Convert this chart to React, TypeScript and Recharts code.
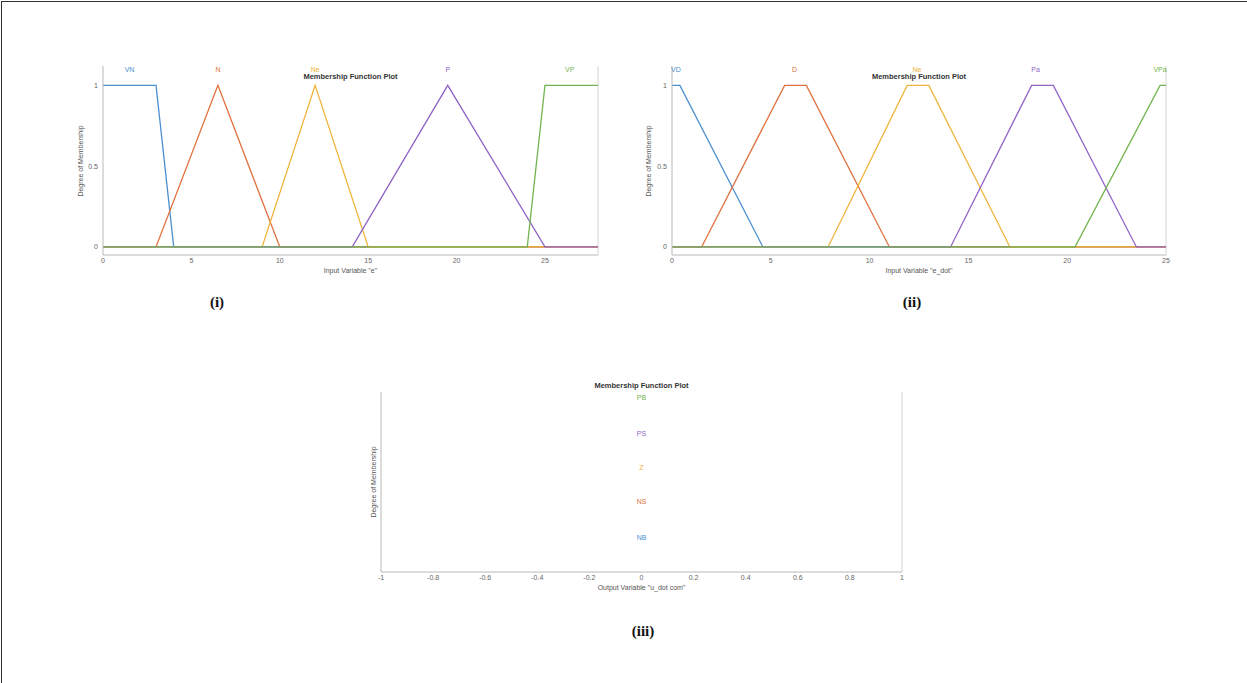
import { Line, LineChart, ReferenceDot, ReferenceLine, XAxis, YAxis } from 'recharts';

// input "e" membership functions, [x, degree] corner points
const eTicks = [0, 5, 10, 15, 20, 25];
const eVN = [[0, 1], [3, 1], [4, 0], [28, 0]];
const eN = [[0, 0], [3, 0], [6.5, 1], [10, 0], [28, 0]];
const eNe = [[0, 0], [9, 0], [12, 1], [15, 0], [28, 0]];
const eP = [[0, 0], [14.1, 0], [19.5, 1], [25, 0], [28, 0]];
const eVP = [[0, 0], [24, 0], [25, 1], [28, 1]];
const eNames = ['VN', 'N', 'Ne', 'P', 'VP'];
const eLabelX = [1.5, 6.5, 12, 19.5, 26.4];

// input "e_dot"
const edTicks = [0, 5, 10, 15, 20, 25];
const edVD = [[0, 1], [0.4, 1], [4.6, 0], [25, 0]];
const edD = [[0, 0], [1.5, 0], [5.7, 1], [6.8, 1], [11, 0], [25, 0]];
const edNe = [[0, 0], [7.9, 0], [11.9, 1], [13, 1], [17.1, 0], [25, 0]];
const edPa = [[0, 0], [14.1, 0], [18.2, 1], [19.3, 1], [23.5, 0], [25, 0]];
const edVPa = [[0, 0], [20.4, 0], [24.7, 1], [25, 1]];
const edNames = ['VD', 'D', 'Ne', 'Pa', 'VPa'];
const edLabelX = [0.2, 6.2, 12.4, 18.4, 24.7];

// output "u_dot com" (constant outputs, labels only)
const uTicks = [-1, -0.8, -0.6, -0.4, -0.2, 0, 0.2, 0.4, 0.6, 0.8, 1];
const uNames = ['NB', 'NS', 'Z', 'PS', 'PB'];
const uLabelX = [0, 0, 0, 0, 0];
const uLabelY = [0.19, 0.39, 0.58, 0.77, 0.97];

const mfColors = ['#4a8fd0', '#e0703c', '#efb43c', '#9063c6', '#72b44e'];

const FONT = '"Liberation Sans", Arial, sans-serif';

type Pt = number[];

interface PanelProps {
  left: number;
  top: number;
  width: number;
  height: number;
  margin: { top: number; right: number; bottom: number; left: number };
  yAxisWidth: number;
  xDomain: [number, number];
  yDomain: [number, number];
  xTicks: number[];
  yTicks: number[];
  series: Pt[][];
  names: string[];
  labelX: number[];
  labelY: number[];
  xLabel: string;
  title: string;
  titleTop: number;
  yLabelLeft: number;
}

function MfPanel(p: PanelProps) {
  const plotLeft = p.margin.left + p.yAxisWidth;
  const plotRight = p.width - p.margin.right;
  const plotTop = p.margin.top;
  const plotBottom = p.height - p.margin.bottom - 22;
  return (
    <div style={{ position: 'absolute', left: p.left, top: p.top, width: p.width, height: p.height }}>
      <LineChart width={p.width} height={p.height} margin={p.margin}>
        <XAxis
          allowDataOverflow
          axisLine={{ stroke: '#b8b8b8' }}
          dataKey='x'
          domain={p.xDomain}
          height={22}
          interval={0}
          label={{ value: p.xLabel, position: 'insideBottom', offset: 4, fontSize: 7, fill: '#555', fontFamily: FONT }}
          tick={{ fontSize: 7, fill: '#666', fontFamily: FONT }}
          tickLine={false}
          tickMargin={1}
          tickSize={2}
          ticks={p.xTicks}
          type='number'
        />
        <YAxis
          allowDataOverflow
          axisLine={{ stroke: '#b8b8b8' }}
          domain={p.yDomain}
          interval={0}
          tick={p.yTicks.length ? { fontSize: 7, fill: '#666', fontFamily: FONT } : false}
          tickLine={false}
          tickMargin={3}
          tickSize={2}
          ticks={p.yTicks}
          type='number'
          width={p.yAxisWidth}
        />
        <ReferenceLine
          stroke='#d4d4d4'
          x={p.xDomain[1]}
        />
        {p.series.map((pts, i) => (
          <Line
            data={pts.map(([x, y]) => ({ x, y }))}
            dataKey='y'
            dot={false}
            isAnimationActive={false}
            key={p.names[i]}
            stroke={mfColors[i]}
            strokeWidth={1.3}
            type='linear'
          />
        ))}
        {p.names.map((name, i) => (
          <ReferenceDot
            fill='none'
            ifOverflow='visible'
            key={`lbl-${name}`}
            label={{ value: name, position: 'center', fontSize: 7, fill: mfColors[i], fontFamily: FONT }}
            r={1}
            stroke='none'
            x={p.labelX[i]}
            y={p.labelY[i]}
          />
        ))}
      </LineChart>
      <div
        style={{
          position: 'absolute',
          left: (plotLeft + plotRight) / 2,
          top: p.titleTop,
          transform: 'translate(-50%, -50%)',
          fontFamily: FONT,
          fontSize: 7.5,
          fontWeight: 'bold',
          color: '#333',
          whiteSpace: 'nowrap'
        }}
      >
        {p.title}
      </div>
      <div
        style={{
          position: 'absolute',
          left: p.yLabelLeft,
          top: (plotTop + plotBottom) / 2,
          transform: 'translate(-50%, -50%) rotate(-90deg)',
          fontFamily: FONT,
          fontSize: 7,
          color: '#555',
          whiteSpace: 'nowrap'
        }}
      >
        Degree of Membership
      </div>
    </div>
  );
}

const captionStyle = {
  position: 'absolute' as const,
  transform: 'translate(-50%, -50%)',
  fontFamily: '"Liberation Serif", "DejaVu Serif", serif',
  fontWeight: 'bold' as const,
  fontSize: 15,
  color: '#111'
};

export default function App() {
  return (
    <div
      style={{
        position: 'fixed',
        left: 0,
        top: 0,
        width: 1247,
        height: 683,
        background: '#fff',
        overflow: 'hidden'
      }}
    >
      <div
        style={{
          position: 'absolute',
          left: 1,
          top: 1,
          width: 1260,
          height: 700,
          borderTop: '1px solid #333',
          borderLeft: '1px solid #333'
        }}
      />
      <MfPanel
        height={225}
        labelX={eLabelX}
        labelY={eNames.map(() => 1.1)}
        left={70}
        margin={{ top: 6, right: 12, bottom: 8, left: 0 }}
        names={eNames}
        series={[eVN, eN, eNe, eP, eVP]}
        title='Membership Function Plot'
        titleTop={16}
        top={60}
        width={540}
        xDomain={[0, 28]}
        xLabel='Input Variable "e"'
        xTicks={eTicks}
        yAxisWidth={33}
        yDomain={[-0.05, 1.12]}
        yLabelLeft={10}
        yTicks={[0, 0.5, 1]}
      />
      <MfPanel
        height={225}
        labelX={edLabelX}
        labelY={edNames.map(() => 1.1)}
        left={640}
        margin={{ top: 6, right: 14, bottom: 8, left: 0 }}
        names={edNames}
        series={[edVD, edD, edNe, edPa, edVPa]}
        title='Membership Function Plot'
        titleTop={16}
        top={60}
        width={540}
        xDomain={[0, 25]}
        xLabel='Input Variable "e_dot"'
        xTicks={edTicks}
        yAxisWidth={32}
        yDomain={[-0.05, 1.12]}
        yLabelLeft={8}
        yTicks={[0, 0.5, 1]}
      />
      <MfPanel
        height={220}
        labelX={uLabelX}
        labelY={uLabelY}
        left={360}
        margin={{ top: 12, right: 18, bottom: 6, left: 0 }}
        names={uNames}
        series={[]}
        title='Membership Function Plot'
        titleTop={5}
        top={380}
        width={560}
        xDomain={[-1, 1]}
        xLabel='Output Variable "u_dot com"'
        xTicks={uTicks}
        yAxisWidth={21}
        yDomain={[0, 1]}
        yLabelLeft={13}
        yTicks={[]}
      />
      <div style={{ ...captionStyle, left: 217, top: 302 }}>(i)</div>
      <div style={{ ...captionStyle, left: 912, top: 302 }}>(ii)</div>
      <div style={{ ...captionStyle, left: 643, top: 631 }}>(iii)</div>
    </div>
  );
}
